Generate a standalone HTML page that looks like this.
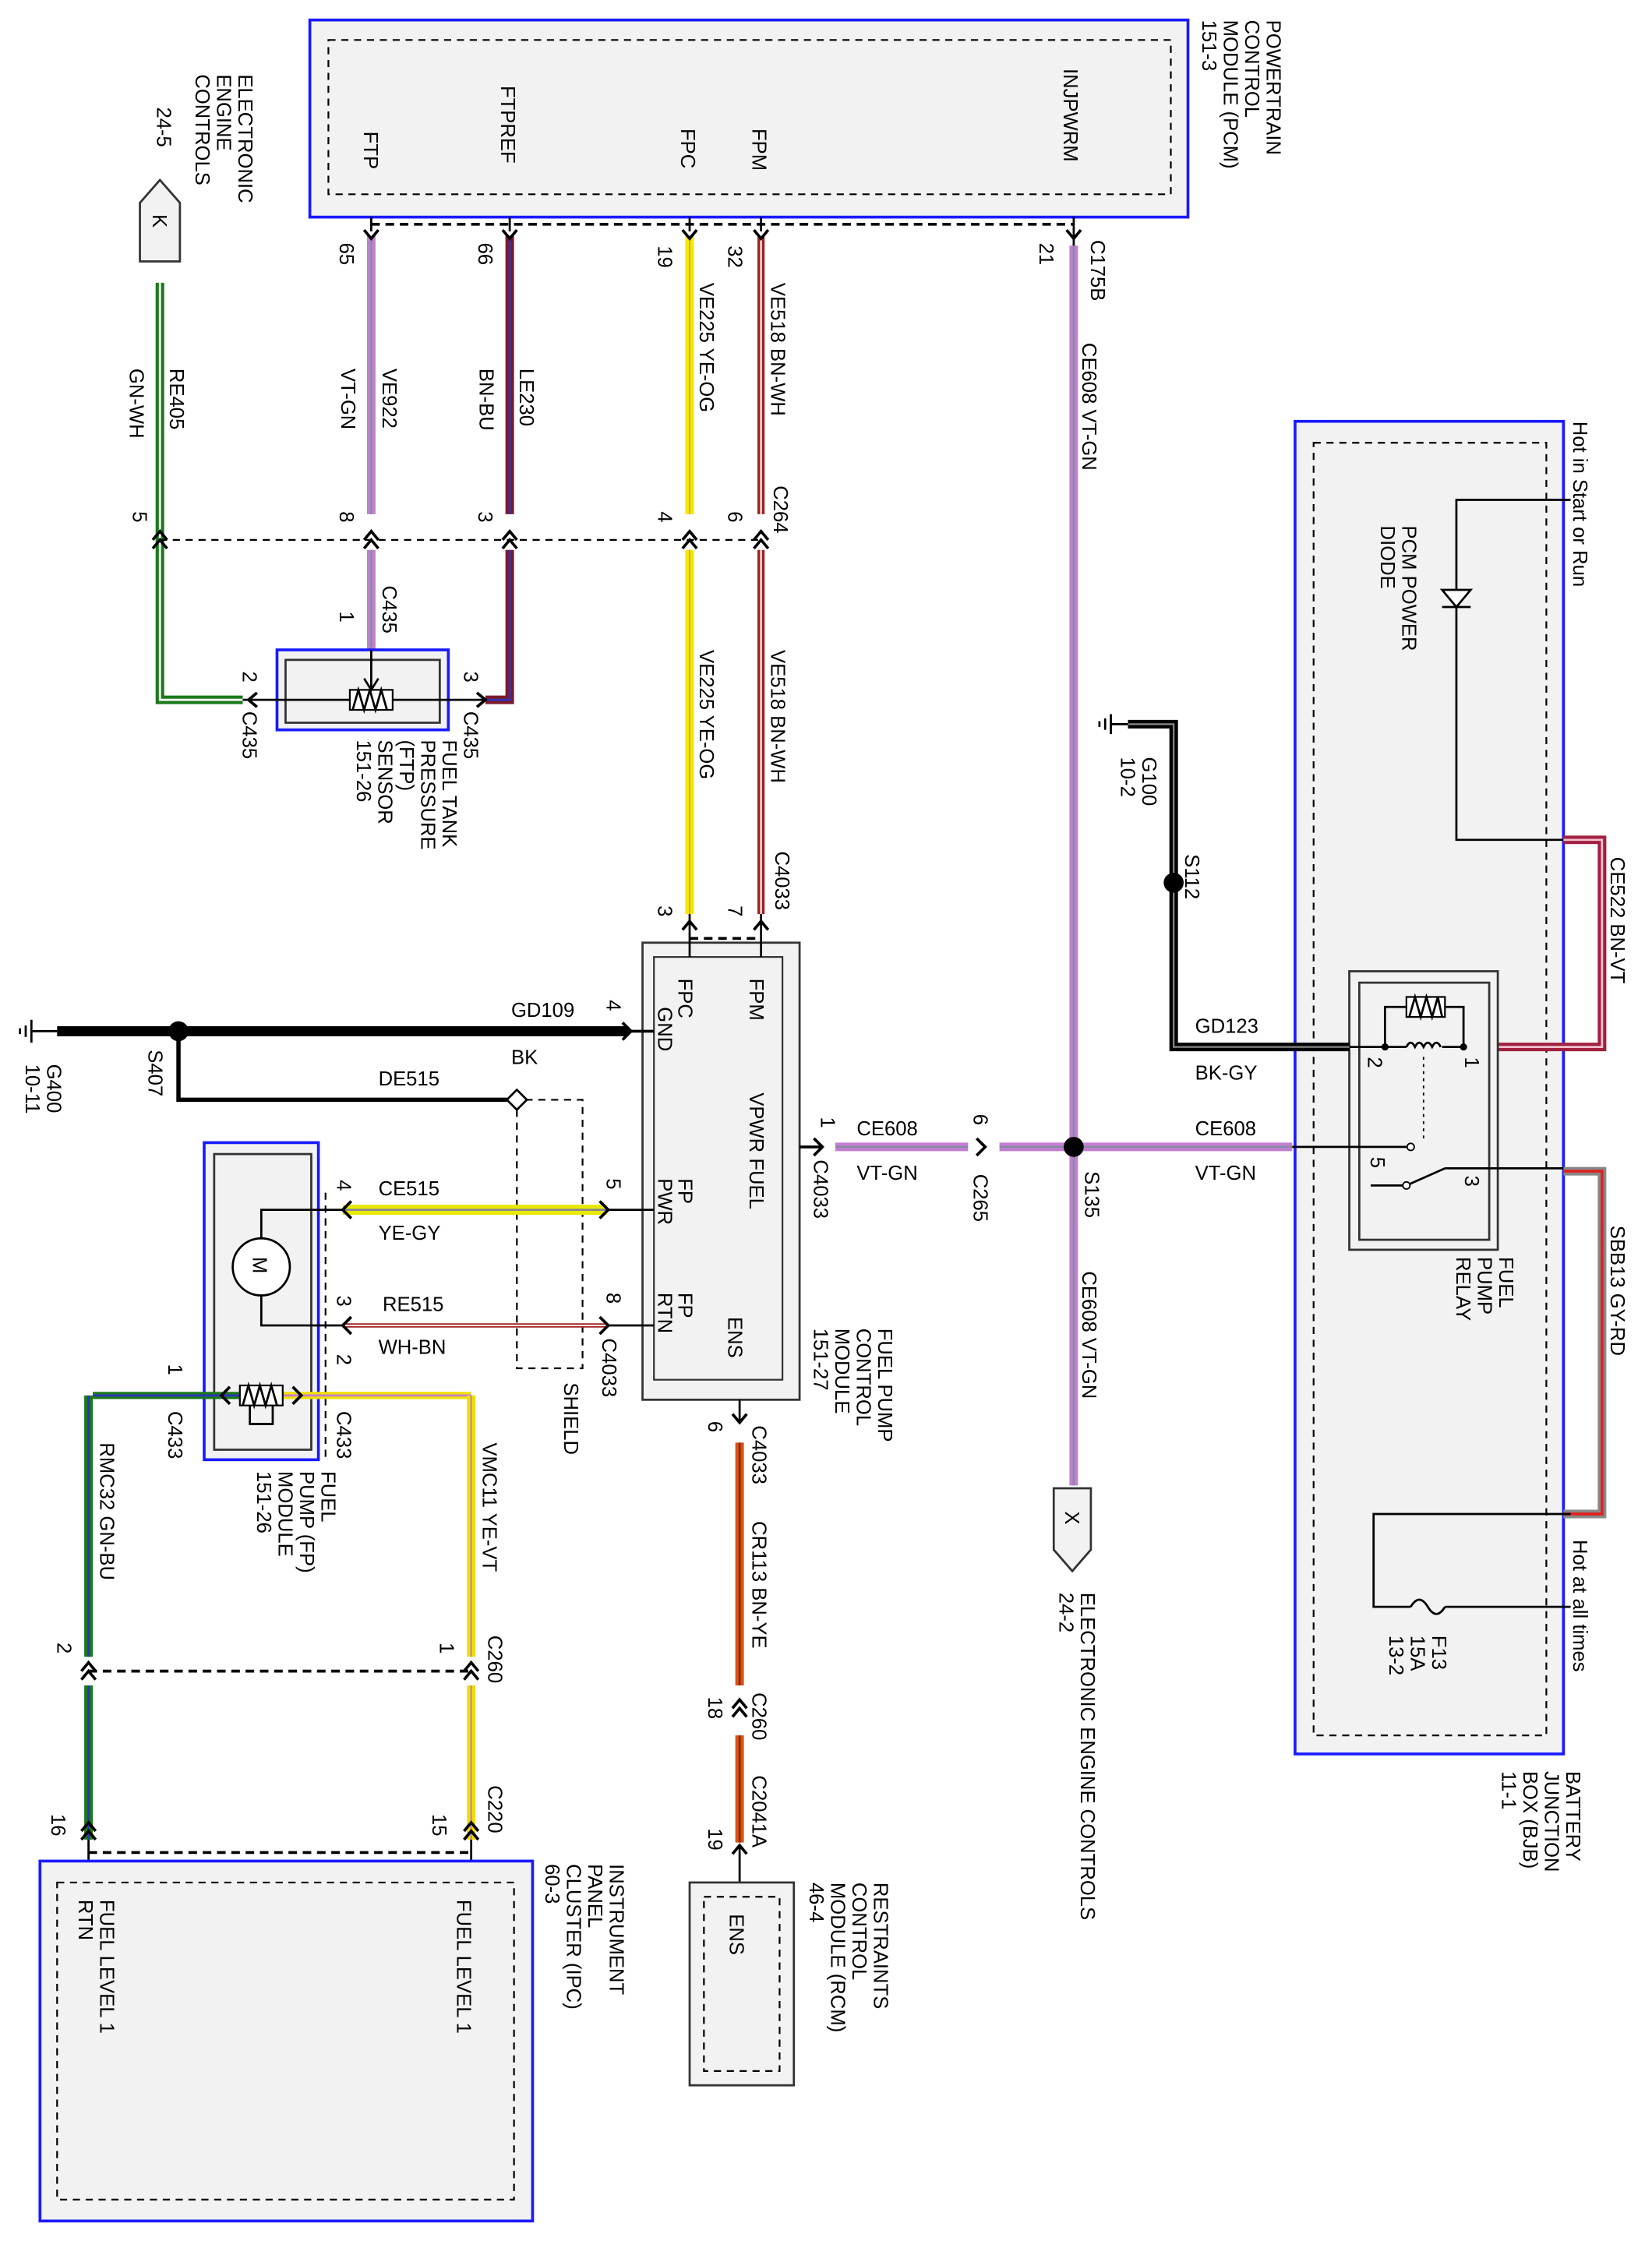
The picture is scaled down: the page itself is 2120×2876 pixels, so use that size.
<!DOCTYPE html>
<html><head><meta charset="utf-8"><style>html,body{margin:0;padding:0;background:#fff}svg{display:block}</style></head>
<body>
<svg width="2120" height="2876" viewBox="0 0 1157 1569" preserveAspectRatio="none" xmlns="http://www.w3.org/2000/svg" font-family="Liberation Sans, sans-serif" font-size="14" fill="#000">
<defs>
<style>
.b{fill:#f2f2f2;stroke:#1a1aff;stroke-width:2}
.g{fill:#f2f2f2;stroke:#333;stroke-width:1.5}
.d{fill:none;stroke:#000;stroke-width:1.2;stroke-dasharray:5,4}
.dt{fill:none;stroke:#000;stroke-width:2;stroke-dasharray:6,4}
.l{fill:none;stroke:#000;stroke-width:1.5}
.ch{fill:none;stroke:#000;stroke-width:2}
</style>
</defs>

<!-- PCM -->
<rect x="217" y="14" width="615" height="138" class="b"/>
<rect x="230" y="28" width="590" height="108" class="d"/>
<g transform="rotate(90)">
</g>
<text transform="translate(255,92) rotate(90)">FTP</text>
<text transform="translate(351,60) rotate(90)">FTPREF</text>
<text transform="translate(477,90) rotate(90)">FPC</text>
<text transform="translate(527,90) rotate(90)">FPM</text>
<text transform="translate(745,48) rotate(90)">INJPWRM</text>
<text transform="translate(887,14) rotate(90)">POWERTRAIN</text>
<text transform="translate(872,14) rotate(90)">CONTROL</text>
<text transform="translate(857,14) rotate(90)">MODULE (PCM)</text>
<text transform="translate(842,14) rotate(90)">151-3</text>
<path d="M260,157 H752" class="dt"/>

<!-- ECC K -->
<text transform="translate(167,52) rotate(90)">ELECTRONIC</text>
<text transform="translate(152,52) rotate(90)">ENGINE</text>
<text transform="translate(137,52) rotate(90)">CONTROLS</text>
<text transform="translate(110,75) rotate(90)">24-5</text>
<path d="M98,183 V142 L112,126 L126,142 V183 Z" fill="#f2f2f2" stroke="#333" stroke-width="1.5"/>
<text transform="translate(107,150) rotate(90)">K</text>

<!-- wires vertical top -->
<g>
<path d="M112,198 V490 H170" fill="none" stroke="#1a7a1a" stroke-width="6"/>
<path d="M112,198 V490 H170" fill="none" stroke="#fff" stroke-width="1.5"/>
<path d="M260,165 V360 M260,385 V455" fill="none" stroke="#c47ed0" stroke-width="6"/>
<path d="M260,165 V360 M260,385 V455" fill="none" stroke="#8a8aa8" stroke-width="1.5"/>
<path d="M357,165 V360 M357,385 V490 H340" fill="none" stroke="#7a1a2a" stroke-width="6"/>
<path d="M357,165 V360 M357,385 V490 H340" fill="none" stroke="#3030c0" stroke-width="1.5"/>
<path d="M483,165 V360 M483,385 V640" fill="none" stroke="#f5e800" stroke-width="6"/>
<path d="M483,165 V360 M483,385 V640" fill="none" stroke="#e0a020" stroke-width="1"/>
<path d="M533,165 V360 M533,385 V640" fill="none" stroke="#a02020" stroke-width="5"/>
<path d="M533,165 V360 M533,385 V640" fill="none" stroke="#fff" stroke-width="1.2"/>
<path d="M752,172 V1040" fill="none" stroke="#c47ed0" stroke-width="6"/>
<path d="M752,172 V1040" fill="none" stroke="#8a8aa8" stroke-width="1.5"/>
</g>
<!-- pin chevrons top -->
<path d="M255,161 L260,167 L265,161 M352,161 L357,167 L362,161 M478,161 L483,167 L488,161 M528,161 L533,167 L538,161 M747,161 L752,167 L757,161" class="ch"/>
<path d="M260,152 V162 M357,152 V162 M483,152 V162 M533,152 V162 M752,152 V172" class="l"/>
<text transform="translate(238,170) rotate(90)">65</text>
<text transform="translate(335,170) rotate(90)">66</text>
<text transform="translate(461,172) rotate(90)">19</text>
<text transform="translate(510,172) rotate(90)">32</text>
<text transform="translate(728,170) rotate(90)">21</text>
<text transform="translate(764,168) rotate(90)">C175B</text>
<text transform="translate(758,240) rotate(90)">CE608  VT-GN</text>
<text transform="translate(268,258) rotate(90)">VE922</text>
<text transform="translate(239,258) rotate(90)">VT-GN</text>
<text transform="translate(364,258) rotate(90)">LE230</text>
<text transform="translate(336,258) rotate(90)">BN-BU</text>
<text transform="translate(490,198) rotate(90)">VE225  YE-OG</text>
<text transform="translate(540,198) rotate(90)">VE518  BN-WH</text>
<text transform="translate(119,258) rotate(90)">RE405</text>
<text transform="translate(91,258) rotate(90)">GN-WH</text>
<text transform="translate(490,455) rotate(90)">VE225  YE-OG</text>
<text transform="translate(540,455) rotate(90)">VE518  BN-WH</text>

<!-- C264 connector row -->
<path d="M112,378 H533" class="d"/>
<path d="M107,378 L112,372 L117,378 M107,384 L112,378 L117,384 M255,378 L260,372 L265,378 M255,384 L260,378 L265,384 M352,378 L357,372 L362,378 M352,384 L357,378 L362,384 M478,378 L483,372 L488,378 M478,384 L483,378 L488,384 M528,378 L533,372 L538,378 M528,384 L533,378 L538,384" class="ch"/>
<text transform="translate(93,358) rotate(90)">5</text>
<text transform="translate(238,358) rotate(90)">8</text>
<text transform="translate(335,358) rotate(90)">3</text>
<text transform="translate(461,358) rotate(90)">4</text>
<text transform="translate(510,358) rotate(90)">6</text>
<text transform="translate(542,340) rotate(90)">C264</text>

<!-- FTP sensor -->
<rect x="194" y="455" width="120" height="56" class="b"/>
<rect x="200" y="462" width="108" height="44" class="g"/>
<path d="M170,490 H245 M275,490 H340" class="l"/>
<rect x="245" y="483" width="30" height="14" fill="#fff" stroke="#000" stroke-width="1.2"/>
<path d="M247,497 L251,483 L255,497 L259,483 L263,497 L267,483 L271,497" class="l"/>
<path d="M260,455 V483 M255,475 L260,483 L265,475" class="l"/>
<path d="M180,485 L174,490 L180,495 M334,485 L340,490 L334,495" class="ch"/>
<text transform="translate(238,428) rotate(90)">1</text>
<text transform="translate(268,410) rotate(90)">C435</text>
<text transform="translate(170,470) rotate(90)">2</text>
<text transform="translate(170,498) rotate(90)">C435</text>
<text transform="translate(325,470) rotate(90)">3</text>
<text transform="translate(325,498) rotate(90)">C435</text>
<text transform="translate(310,518) rotate(90)">FUEL TANK</text>
<text transform="translate(295,518) rotate(90)">PRESSURE</text>
<text transform="translate(280,518) rotate(90)">(FTP)</text>
<text transform="translate(265,518) rotate(90)">SENSOR</text>
<text transform="translate(250,518) rotate(90)">151-26</text>

<!-- FPCM -->
<rect x="450" y="660" width="110" height="320" class="g"/>
<rect x="458" y="670" width="90" height="296" fill="#f2f2f2" stroke="#333" stroke-width="1.2"/>
<path d="M483,657 H533" class="dt"/>
<path d="M478,651 L483,645 L488,651 M528,651 L533,645 L538,651" class="ch"/>
<path d="M483,640 V670 M533,640 V670" class="l"/>
<text transform="translate(461,634) rotate(90)">3</text>
<text transform="translate(510,634) rotate(90)">7</text>
<text transform="translate(543,596) rotate(90)">C4033</text>
<text transform="translate(525,685) rotate(90)">FPM</text>
<text transform="translate(475,685) rotate(90)">FPC</text>
<text transform="translate(461,705) rotate(90)">GND</text>
<text transform="translate(525,765) rotate(90)">VPWR FUEL</text>
<text transform="translate(475,825) rotate(90)">FP</text>
<text transform="translate(461,825) rotate(90)">PWR</text>
<text transform="translate(475,905) rotate(90)">FP</text>
<text transform="translate(461,905) rotate(90)">RTN</text>
<text transform="translate(510,922) rotate(90)">ENS</text>
<text transform="translate(615,930) rotate(90)">FUEL PUMP</text>
<text transform="translate(600,930) rotate(90)">CONTROL</text>
<text transform="translate(585,930) rotate(90)">MODULE</text>
<text transform="translate(570,930) rotate(90)">151-27</text>

<!-- GD109 -->
<path d="M40,722 H440" fill="none" stroke="#000" stroke-width="7"/>
<circle cx="125" cy="722" r="7"/>
<path d="M440,722 H458 M436,716 L442,722 L436,728" class="ch"/>
<path d="M22,722 H40 M22,714 V730 M18,718 V726 M14,720 V724" class="l"/>
<text transform="translate(33,745) rotate(90)">G400</text>
<text transform="translate(18,745) rotate(90)">10-11</text>
<text transform="translate(104,735) rotate(90)">S407</text>
<text x="358" y="712">GD109</text>
<text x="358" y="745">BK</text>
<text transform="translate(425,700) rotate(90)">4</text>
<path d="M125,722 V770 H355" fill="none" stroke="#000" stroke-width="3"/>
<path d="M362,763 L369,770 L362,777 L355,770 Z" fill="#fff" stroke="#000" stroke-width="1.5"/>
<text x="265" y="760">DE515</text>
<path d="M362,777 V958 H408 V770 H369" class="d"/>
<text transform="translate(395,968) rotate(90)">SHIELD</text>

<!-- CE515 / RE515 -->
<path d="M240,847 H425" fill="none" stroke="#e8e800" stroke-width="7"/>
<path d="M240,847 H425" fill="none" stroke="#888" stroke-width="1.5"/>
<path d="M240,928 H425" fill="none" stroke="#a02020" stroke-width="3"/>
<path d="M240,928 H425" fill="none" stroke="#fff" stroke-width="1"/>
<path d="M425,847 H458 M425,928 H458" class="l"/>
<path d="M420,841 L426,847 L420,853 M420,922 L426,928 L420,934 M246,841 L240,847 L246,853 M246,922 L240,928 L246,934" class="ch"/>
<text x="265" y="837">CE515</text>
<text x="265" y="868">YE-GY</text>
<text x="268" y="918">RE515</text>
<text x="265" y="948">WH-BN</text>
<text transform="translate(425,825) rotate(90)">5</text>
<text transform="translate(425,905) rotate(90)">8</text>
<text transform="translate(422,937) rotate(90)">C4033</text>

<!-- FP module -->
<rect x="143" y="800" width="80" height="222" class="b"/>
<rect x="150" y="808" width="68" height="207" class="g"/>
<path d="M228,835 V1020" class="d"/>
<circle cx="183" cy="887" r="20" fill="#fff" stroke="#000" stroke-width="1.5"/>
<text transform="translate(177,880) rotate(90)">M</text>
<path d="M183,867 V847 H240 M183,907 V928 H240" class="l"/>
<text transform="translate(236,826) rotate(90)">4</text>
<text transform="translate(236,907) rotate(90)">3</text>
<path d="M65,977 H168" fill="none" stroke="#1a7a1a" stroke-width="5"/>
<path d="M65,977 H168" fill="none" stroke="#3030c0" stroke-width="1.5"/>
<path d="M198,977 H330" fill="none" stroke="#f0e000" stroke-width="5"/>
<path d="M198,977 H330" fill="none" stroke="#c47ed0" stroke-width="1.5"/>
<rect x="168" y="970" width="30" height="14" fill="#fff" stroke="#000" stroke-width="1.2"/>
<path d="M170,984 L174,970 L178,984 L182,970 L186,984 L190,970 L194,984" class="l"/>
<path d="M175,984 V997 H191 V984" class="l"/>
<path d="M161,971 L155,977 L161,983 M205,971 L211,977 L205,983" class="ch"/>
<text transform="translate(118,955) rotate(90)">1</text>
<text transform="translate(118,988) rotate(90)">C433</text>
<text transform="translate(236,948) rotate(90)">2</text>
<text transform="translate(236,988) rotate(90)">C433</text>
<text transform="translate(225,1030) rotate(90)">FUEL</text>
<text transform="translate(210,1030) rotate(90)">PUMP (FP)</text>
<text transform="translate(195,1030) rotate(90)">MODULE</text>
<text transform="translate(180,1030) rotate(90)">151-26</text>

<!-- RMC32 / VMC11 -->
<path d="M62,977 V1160 M62,1180 V1288" fill="none" stroke="#1a7a1a" stroke-width="6"/>
<path d="M62,977 V1160 M62,1180 V1288" fill="none" stroke="#3030c0" stroke-width="1.5"/>
<path d="M330,977 V1160 M330,1180 V1288" fill="none" stroke="#f0e000" stroke-width="6"/>
<path d="M330,977 V1160 M330,1180 V1288" fill="none" stroke="#c47ed0" stroke-width="1.2"/>
<path d="M62,1170 H330 M62,1297 H330" class="dt"/>
<path d="M57,1170 L62,1164 L67,1170 M57,1176 L62,1170 L67,1176 M325,1170 L330,1164 L335,1170 M325,1176 L330,1170 L335,1176 M57,1282 L62,1276 L67,1282 M57,1288 L62,1282 L67,1288 M325,1282 L330,1276 L335,1282 M325,1288 L330,1282 L335,1288" class="ch"/>
<path d="M62,1288 V1318 M330,1288 V1318" class="l"/>
<text transform="translate(70,1010) rotate(90)">RMC32   GN-BU</text>
<text transform="translate(338,1010) rotate(90)">VMC11   YE-VT</text>
<text transform="translate(40,1150) rotate(90)">2</text>
<text transform="translate(308,1150) rotate(90)">1</text>
<text transform="translate(342,1145) rotate(90)">C260</text>
<text transform="translate(36,1270) rotate(90)">16</text>
<text transform="translate(303,1270) rotate(90)">15</text>
<text transform="translate(342,1250) rotate(90)">C220</text>

<!-- IPC -->
<rect x="28" y="1303" width="345" height="252" class="b"/>
<rect x="40" y="1318" width="320" height="222" class="d"/>
<text transform="translate(70,1330) rotate(90)">FUEL LEVEL 1</text>
<text transform="translate(55,1330) rotate(90)">RTN</text>
<text transform="translate(320,1330) rotate(90)">FUEL LEVEL 1</text>
<text transform="translate(427,1305) rotate(90)">INSTRUMENT</text>
<text transform="translate(412,1305) rotate(90)">PANEL</text>
<text transform="translate(397,1305) rotate(90)">CLUSTER (IPC)</text>
<text transform="translate(382,1305) rotate(90)">60-3</text>

<!-- ENS wire -->
<path d="M518,980 V996" class="l"/>
<path d="M513,990 L518,996 L523,990" class="ch"/>
<path d="M518,1010 V1180 M518,1215 V1290" fill="none" stroke="#e05010" stroke-width="6"/>
<path d="M518,1010 V1180 M518,1215 V1290" fill="none" stroke="#7a3010" stroke-width="1.5"/>
<path d="M513,1196 L518,1190 L523,1196 M513,1202 L518,1196 L523,1202 M513,1298 L518,1292 L523,1298" class="ch"/>
<path d="M518,1292 V1340" class="l"/>
<text transform="translate(496,995) rotate(90)">6</text>
<text transform="translate(527,998) rotate(90)">C4033</text>
<text transform="translate(527,1065) rotate(90)">CR113   BN-YE</text>
<text transform="translate(496,1188) rotate(90)">18</text>
<text transform="translate(527,1185) rotate(90)">C260</text>
<text transform="translate(496,1280) rotate(90)">19</text>
<text transform="translate(527,1243) rotate(90)">C2041A</text>
<rect x="483" y="1318" width="73" height="142" class="g"/>
<rect x="493" y="1328" width="53" height="122" class="d"/>
<text transform="translate(511,1340) rotate(90)">ENS</text>
<text transform="translate(612,1318) rotate(90)">RESTRAINTS</text>
<text transform="translate(597,1318) rotate(90)">CONTROL</text>
<text transform="translate(582,1318) rotate(90)">MODULE (RCM)</text>
<text transform="translate(567,1318) rotate(90)">46-4</text>

<!-- CE608 horizontal -->
<path d="M560,803 H575 M570,797 L576,803 L570,809 M684,797 L690,803 L684,809" class="ch"/>
<path d="M585,803 H678 M700,803 H905" fill="none" stroke="#c47ed0" stroke-width="6"/>
<path d="M585,803 H678 M700,803 H905" fill="none" stroke="#8a8aa8" stroke-width="1.5"/>
<circle cx="752" cy="803" r="7"/>
<text transform="translate(575,782) rotate(90)">1</text>
<text x="600" y="795">CE608</text>
<text x="600" y="826">VT-GN</text>
<text transform="translate(570,812) rotate(90)">C4033</text>
<text transform="translate(682,780) rotate(90)">6</text>
<text transform="translate(682,822) rotate(90)">C265</text>
<text transform="translate(760,820) rotate(90)">S135</text>
<text transform="translate(758,890) rotate(90)">CE608   VT-GN</text>
<text x="837" y="795">CE608</text>
<text x="837" y="826">VT-GN</text>

<!-- X connector -->
<path d="M738,1042 H764 V1085 L751,1100 L738,1085 Z" fill="#f2f2f2" stroke="#333" stroke-width="1.5"/>
<text transform="translate(746,1058) rotate(90)">X</text>
<text transform="translate(757,1115) rotate(90)">ELECTRONIC ENGINE CONTROLS</text>
<text transform="translate(742,1115) rotate(90)">24-2</text>

<!-- BJB -->
<rect x="907" y="295" width="188" height="933" class="b"/>
<rect x="920" y="310" width="163" height="905" class="d"/>
<text transform="translate(1102,295) rotate(90)">Hot in Start or Run</text>
<text transform="translate(1102,1078) rotate(90)">Hot at all times</text>
<text transform="translate(1097,1240) rotate(90)">BATTERY</text>
<text transform="translate(1082,1240) rotate(90)">JUNCTION</text>
<text transform="translate(1067,1240) rotate(90)">BOX (BJB)</text>
<text transform="translate(1052,1240) rotate(90)">11-1</text>
<path d="M1100,350 H1020 V588 H1100" class="l"/>
<path d="M1010,413 H1030 L1020,425 Z" fill="#fff" stroke="#000" stroke-width="1.5"/>
<path d="M1010,425 H1030" class="l"/>
<text transform="translate(982,368) rotate(90)">PCM POWER</text>
<text transform="translate(967,368) rotate(90)">DIODE</text>
<path d="M1095,588 H1122 V733 H1025" fill="none" stroke="#a02040" stroke-width="6"/>
<path d="M1095,588 H1122 V733 H1025" fill="none" stroke="#f0c0d0" stroke-width="1.5"/>
<text transform="translate(1128,600) rotate(90)">CE522   BN-VT</text>

<!-- relay -->
<rect x="945" y="680" width="104" height="195" class="g"/>
<rect x="952" y="688" width="91" height="180" class="g"/>
<path d="M970,733 V705 H985 M1012,705 H1025 V733" class="l"/>
<rect x="985" y="698" width="27" height="14" fill="#fff" stroke="#000" stroke-width="1.2"/>
<path d="M987,712 L991,698 L995,712 L999,698 L1003,712 L1007,698 L1010,712" class="l"/>
<path d="M970,733 H985 M1010,733 H1025" class="l"/>
<path d="M985,733 q3,-6 6,0 q3,-6 6,0 q3,-6 6,0 q3,-6 6,0" class="l"/>
<circle cx="970" cy="733" r="2.5"/><circle cx="1025" cy="733" r="2.5"/>
<text transform="translate(958,740) rotate(90)">2</text>
<text transform="translate(1026,740) rotate(90)">1</text>
<path d="M997,740 V800" fill="none" stroke="#000" stroke-width="1" stroke-dasharray="2,3"/>
<path d="M905,803 H985" class="l"/>
<circle cx="988" cy="803" r="2.5" fill="#fff" stroke="#000"/>
<path d="M985,830 L1012,818 M1012,818 H1095 M985,830 H960" class="l"/>
<circle cx="985" cy="830" r="2.5" fill="#fff" stroke="#000"/>
<text transform="translate(960,810) rotate(90)">5</text>
<text transform="translate(1026,823) rotate(90)">3</text>
<text transform="translate(1050,880) rotate(90)">FUEL</text>
<text transform="translate(1035,880) rotate(90)">PUMP</text>
<text transform="translate(1020,880) rotate(90)">RELAY</text>

<!-- G100 GD123 -->
<path d="M790,507 H822 V733 H945" fill="none" stroke="#000" stroke-width="6"/>
<path d="M790,507 H822 V733 H945" fill="none" stroke="#888" stroke-width="1.2"/>
<path d="M778,507 H790 M778,500 V514 M774,503 V511 M770,505 V509" class="l"/>
<circle cx="822" cy="618" r="7"/>
<text transform="translate(800,530) rotate(90)">G100</text>
<text transform="translate(785,530) rotate(90)">10-2</text>
<text transform="translate(830,598) rotate(90)">S112</text>
<text x="837" y="723">GD123</text>
<text x="837" y="756">BK-GY</text>
<path d="M945,733 H970" class="l"/>

<!-- SBB13 -->
<path d="M1095,820 H1122 V1060 H1095" fill="none" stroke="#888" stroke-width="6"/>
<path d="M1095,820 H1122 V1060 H1095" fill="none" stroke="#e02020" stroke-width="2"/>
<text transform="translate(1128,858) rotate(90)">SBB13   GY-RD</text>
<path d="M1100,1060 H962 V1125 H988 M1012,1125 H1100" class="l"/>
<path d="M988,1125 q6,-10 12,0 q6,10 12,0" class="l"/>
<text transform="translate(1003,1145) rotate(90)">F13</text>
<text transform="translate(988,1145) rotate(90)">15A</text>
<text transform="translate(973,1145) rotate(90)">13-2</text>
</svg>
</body></html>
